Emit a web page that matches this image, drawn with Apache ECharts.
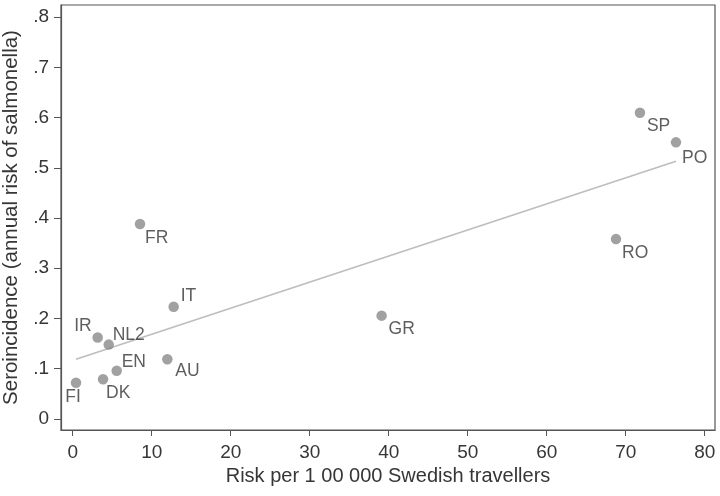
<!DOCTYPE html>
<html>
<head>
<meta charset="utf-8">
<script src="https://cdn.jsdelivr.net/npm/echarts@6/dist/echarts.min.js"></script>
<style>
html,body{margin:0;padding:0;background:#fff;}
#chart{width:720px;height:496px;}
</style>
</head>
<body>
<div id="chart"></div>
<script>
// Data
const countries = ['FI', 'DK', 'EN', 'IR', 'NL2', 'AU', 'IT', 'FR', 'GR', 'RO', 'SP', 'PO'];
const riskPer100k = [0.42, 3.84, 5.57, 3.16, 4.56, 11.98, 12.78, 8.52, 39.1, 68.77, 71.8, 76.36];
const seroincidence = [0.072, 0.079, 0.096, 0.162, 0.148, 0.119, 0.2235, 0.388, 0.2056, 0.358, 0.6096, 0.5506];
// Fitted line end points
const fitX = [0.42, 76.36];
const fitY = [0.119, 0.513];
const xTicks = [0, 10, 20, 30, 40, 50, 60, 70, 80];
const yTicks = [0, 0.1, 0.2, 0.3, 0.4, 0.5, 0.6, 0.7, 0.8];

// label placement (layout only)
const labelPlace = {
  FI: {align: 'center', offset: [-3, 14]},
  DK: {align: 'left', offset: [3, 14]},
  EN: {align: 'left', offset: [5, -9]},
  IR: {align: 'right', offset: [-6, -11]},
  NL2: {align: 'left', offset: [4, -9]},
  AU: {align: 'left', offset: [8, 12]},
  IT: {align: 'left', offset: [7, -10]},
  FR: {align: 'left', offset: [5, 14]},
  GR: {align: 'left', offset: [7, 14]},
  RO: {align: 'left', offset: [6, 14]},
  SP: {align: 'left', offset: [7, 13]},
  PO: {align: 'left', offset: [6, 16]}
};

const textColor = '#363636';
const axisColor = '#555';
const font = 'Liberation Sans, Arial, sans-serif';

const scatterData = countries.map((c, i) => ({
  value: [riskPer100k[i], seroincidence[i]],
  name: c,
  label: {
    show: true,
    formatter: c,
    position: 'inside',
    align: labelPlace[c].align,
    verticalAlign: 'middle',
    offset: labelPlace[c].offset,
    color: textColor,
    fontSize: 17.5,
    fontFamily: font
  }
}));

const chart = echarts.init(document.getElementById('chart'), null, {renderer: 'canvas'});
chart.setOption({
  animation: false,
  backgroundColor: '#fff',
  grid: {left: 61, right: 5, top: 5, bottom: 66, containLabel: false, outerBoundsMode: 'none',
         show: true, borderColor: axisColor, borderWidth: 1.2, backgroundColor: 'transparent'},
  xAxis: {
    type: 'value',
    min: -1.48,
    max: 81.3,
    name: 'Risk per 1 00 000 Swedish travellers',
    nameLocation: 'middle',
    nameGap: 30,
    nameTextStyle: {color: textColor, fontSize: 20, fontFamily: font},
    axisLine: {show: true, onZero: false, lineStyle: {color: axisColor, width: 1.2}},
    axisTick: {show: true, length: 6, customValues: xTicks, lineStyle: {color: axisColor}},
    axisLabel: {customValues: xTicks, color: textColor, fontSize: 19, fontFamily: font, margin: 13},
    splitLine: {show: false}
  },
  yAxis: {
    type: 'value',
    min: -0.022,
    max: 0.824,
    name: 'Seroincidence (annual risk of salmonella)',
    nameLocation: 'middle',
    nameGap: 33,
    nameRotate: 90,
    nameTextStyle: {color: textColor, fontSize: 20.5, fontFamily: font},
    axisLine: {show: true, onZero: false, lineStyle: {color: axisColor, width: 1.2}},
    axisTick: {show: true, length: 7, customValues: yTicks, lineStyle: {color: axisColor}},
    axisLabel: {
      customValues: yTicks, color: textColor, fontSize: 19, fontFamily: font, margin: 12,
      formatter: v => {
        const d = Math.round(v * 10);
        return d === 0 ? '0' : '.' + d;
      }
    },
    splitLine: {show: false}
  },
  series: [
    {
      type: 'line',
      data: fitX.map((x, i) => [x, fitY[i]]),
      symbol: 'none',
      lineStyle: {color: '#bdbdbd', width: 1.6},
      silent: true,
      z: 1
    },
    {
      type: 'scatter',
      data: scatterData,
      symbol: 'circle',
      symbolSize: 10.5,
      itemStyle: {color: '#8a8a8a'},
      z: 2
    }
  ]
});
</script>
</body>
</html>
